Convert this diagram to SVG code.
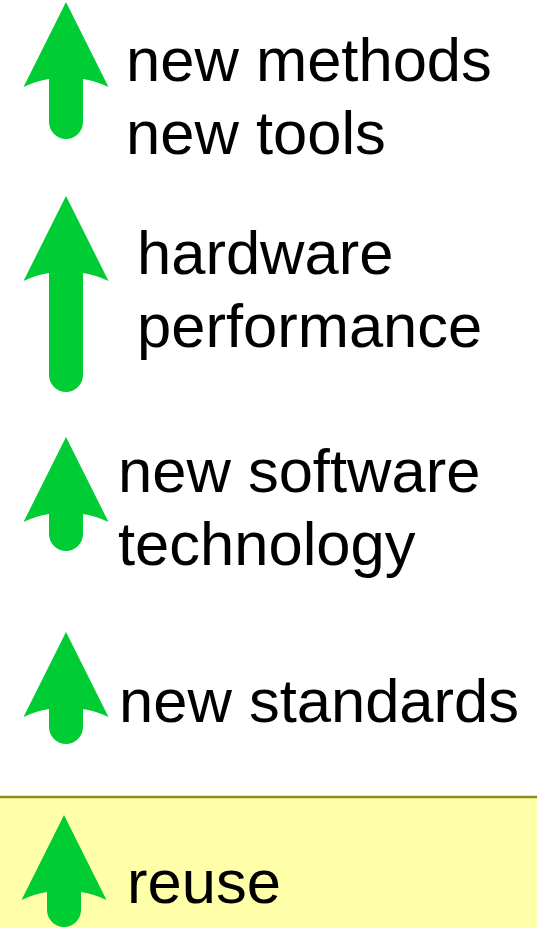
<svg xmlns="http://www.w3.org/2000/svg" xmlns:xlink="http://www.w3.org/1999/xlink" width="537" height="928" viewBox="0 0 537 928">
<style>
.lbl{font-family:"Liberation Sans",Arial,sans-serif;font-size:61.5px;fill:#000}
.shaft{stroke:#00CC33;stroke-width:34;stroke-linecap:round;fill:none}
.head{fill:#00CC33}
</style>
<defs>
<path id="head" class="head" d="M0,0 L42.5,85 Q30,79 17,77 L-17,77 Q-30,79 -42.5,85 Z"/>
</defs>
<rect x="0" y="797" width="537" height="131" fill="#FFFFAA"/>
<line x1="0" y1="797" x2="537" y2="797" stroke="#8C8C1E" stroke-width="2.5"/>
<g id="connectors">
<g id="arrow1"><line class="shaft" x1="66" y1="79" x2="66" y2="122"/><use xlink:href="#head" x="66" y="2"/></g>
<g id="arrow2"><line class="shaft" x1="66" y1="273" x2="66" y2="375"/><use xlink:href="#head" x="66" y="196"/></g>
<g id="arrow3"><line class="shaft" x1="66" y1="514" x2="66" y2="534"/><use xlink:href="#head" x="66" y="437"/></g>
<g id="arrow4"><line class="shaft" x1="66" y1="709" x2="66" y2="727"/><use xlink:href="#head" x="66" y="632"/></g>
<g id="arrow5"><line class="shaft" x1="64" y1="892" x2="64" y2="910"/><use xlink:href="#head" x="64" y="815"/></g>
</g>
<g id="node-methods"><text class="lbl" x="126" y="81">new methods</text><text class="lbl" x="126" y="154">new tools</text></g>
<g id="node-hardware"><text class="lbl" x="137" y="274">hardware</text><text class="lbl" x="137" y="347">performance</text></g>
<g id="node-software"><text class="lbl" x="118" y="492">new software</text><text class="lbl" x="118" y="565">technology</text></g>
<g id="node-standards"><text class="lbl" x="119" y="722">new standards</text></g>
<g id="node-reuse"><text class="lbl" x="127" y="903">reuse</text></g>
</svg>
